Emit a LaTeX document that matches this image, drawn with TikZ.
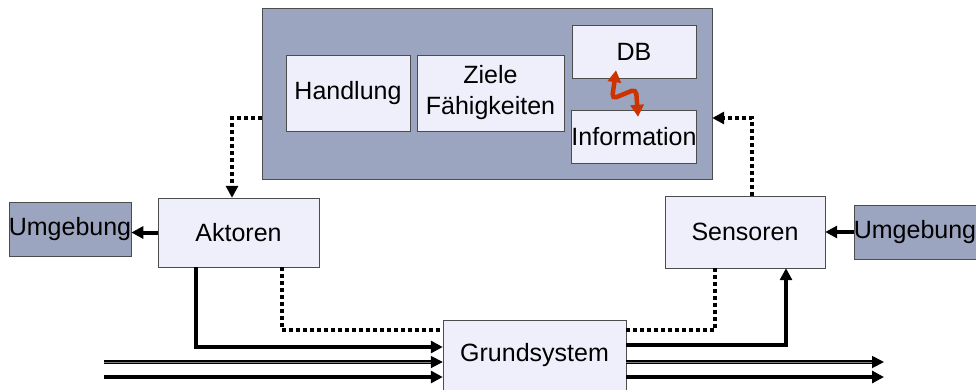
\documentclass[tikz,border=0pt]{standalone}
\usepackage{fontspec}
\setmainfont{Liberation Sans}
\usetikzlibrary{arrows.meta,positioning}
\definecolor{boxgrau}{RGB}{155,165,191}
\definecolor{boxhell}{RGB}{239,239,252}
\definecolor{pfeilrot}{RGB}{204,51,0}

\begin{document}
\begin{tikzpicture}[x=1pt, y=-1pt, font=\fontsize{25}{31}\selectfont,
                    box/.style = {draw=black!70, fill=boxhell, inner sep=0pt, align=center},
                    umg/.style = {draw=black!70, fill=boxgrau, inner sep=0pt},
                    spitze/.style = {-{Triangle[length=12pt,width=12pt]}},
                    fluss/.style = {line width=4pt, spitze},
                    punkt/.style = {line width=4pt, dash pattern=on 4pt off 3pt}]
\useasboundingbox (0,0) rectangle (976,389);
% Agent mit Wissensbasis
\node[draw=black!70, fill=boxgrau, minimum width=450pt, minimum height=171pt] (system) at (487,93.5) {};
\node[box, minimum width=124pt, minimum height=76pt] (handlung) at (348,93) {Handlung};
\node[box, minimum width=147pt, minimum height=76pt] (ziele) at (490.5,93) {Ziele\\Fähigkeiten};
\node[box, minimum width=124pt, minimum height=53pt] (db) at (634,51.5) {DB};
\node[box, minimum width=124pt, minimum height=53pt] (info) at (634,136.5) {Information};
% Aktoren, Sensoren, Umgebung
\node[box, minimum width=161pt, minimum height=69pt] (aktoren) at (238.5,232.5) {Aktoren};
\node[umg, minimum width=120pt, minimum height=54pt] (umgL) at (70,229) {Umgebung};
\node[box, minimum width=160pt, minimum height=72pt] (sensoren) at (745,232) {Sensoren};
\node[umg, minimum width=120pt, minimum height=54pt] (umgR) at (915,232) {Umgebung};
\node[box, minimum width=183pt, minimum height=70pt] (grund) at (534.5,355) {Grundsystem};
\coordinate (einA) at (104,362);
\coordinate (einB) at (104,377);
\coordinate (ausA) at (884,362);
\coordinate (ausB) at (884,377);

\draw[pfeilrot, line width=4.5pt, rounded corners=5pt,
      {Triangle[length=12pt,width=13pt]}-{Triangle[length=12pt,width=13pt]}]
  ([xshift=-18pt,yshift=8pt]db.south) -- (612,99) -- (636,89) -- ([xshift=4pt,yshift=-7pt]info.north);

\draw[punkt, spitze] (system.west |- 0,118) -| (aktoren.north -| 232,0);
\draw[punkt, spitze] (sensoren.north -| 752,0) |- (system.east |- 0,118);
\draw[fluss] (aktoren.west) -- (umgL.east |- aktoren.west);
\draw[fluss] (umgR.west) -- (sensoren.east);
\draw[fluss] (aktoren.south -| 196,0) |- (grund.west |- 0,347);
\draw[punkt] (aktoren.south -| 282,0) |- (grund.west |- 0,330);
\draw[punkt] (grund.east |- 0,330) -| (sensoren.south -| 715,0);
\draw[fluss] (grund.east |- 0,345) -| (sensoren.south -| 786,0);
\draw[line width=1.8pt, double=gray, double distance=1pt, spitze] (einA) -- (grund.west |- einA);
\draw[fluss] (einB) -- (grund.west |- einB);
\draw[line width=1.8pt, double=gray, double distance=1pt, spitze] (grund.east |- ausA) -- (ausA);
\draw[fluss] (grund.east |- ausB) -- (ausB);
\end{tikzpicture}
\end{document}
